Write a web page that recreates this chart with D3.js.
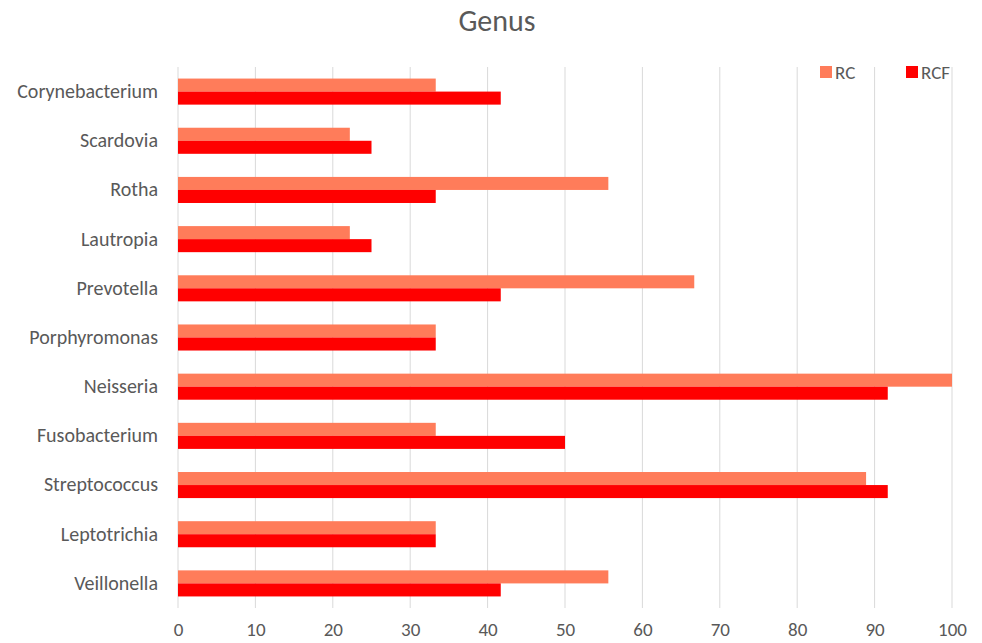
<!DOCTYPE html>
<html>
<head>
<meta charset="utf-8">
<script src="https://cdn.jsdelivr.net/npm/d3@7"></script>
<style>
  body { margin: 0; background: #fff; }
  text { font-family: Carlito, Calibri, Lato, "Open Sans", sans-serif; fill: #595959; }
</style>
</head>
<body>
<div id="chart"></div>
<script>
var genera = ['Corynebacterium', 'Scardovia', 'Rotha', 'Lautropia', 'Prevotella', 'Porphyromonas',
    'Neisseria', 'Fusobacterium', 'Streptococcus', 'Leptotrichia', 'Veillonella'];
var rcValues = [33.3, 22.2, 55.6, 22.2, 66.7, 33.3, 100, 33.3, 88.9, 33.3, 55.6];
var rcfValues = [41.7, 25, 33.3, 25, 41.7, 33.3, 91.7, 50, 91.7, 33.3, 41.7];
var seriesNames = ['RC', 'RCF'];
var seriesColors = ['#ff7c5a', '#ff0000'];
var xTicks = [0, 10, 20, 30, 40, 50, 60, 70, 80, 90, 100];

var svgWidth = 982;
var svgHeight = 643;

var margin = {
    top: 67,
    right: 30,
    bottom: 35,
    left: 178
};

var width = 952 - margin.left;
var height = 608 - margin.top;
var fontStack = 'Carlito, Calibri, Lato, "Open Sans", sans-serif';

var svg = d3.select('#chart')
    .append('svg')
    .attr('width', svgWidth)
    .attr('height', svgHeight);

var chartGroup = svg.append('g')
    .attr('transform', `translate(${margin.left},${margin.top})`);

var xScale = d3.scaleLinear()
    .domain([0, 100])
    .range([0, width]);

var yScale = d3.scaleBand()
    .domain(genera)
    .range([0, height])
    .paddingInner(0.47)
    .paddingOuter(0.235);

var inner = d3.scaleBand()
    .domain(seriesNames)
    .range([0, yScale.bandwidth()]);

// gridlines
chartGroup.append('g')
    .selectAll('line')
    .data(xTicks)
    .enter()
    .append('line')
    .attr('x1', d => xScale(d))
    .attr('x2', d => xScale(d))
    .attr('y1', 0)
    .attr('y2', height)
    .attr('stroke', '#d9d9d9')
    .attr('stroke-width', 1);

// bars
var rows = genera.map((g, i) => ({ genus: g, values: [rcValues[i], rcfValues[i]] }));

var groups = chartGroup.selectAll('.row')
    .data(rows)
    .enter()
    .append('g')
    .attr('transform', d => `translate(0,${yScale(d.genus)})`);

groups.selectAll('rect')
    .data(d => d.values.map((v, j) => ({ key: seriesNames[j], value: v, color: seriesColors[j] })))
    .enter()
    .append('rect')
    .attr('x', 0)
    .attr('y', d => inner(d.key))
    .attr('width', d => xScale(d.value))
    .attr('height', inner.bandwidth())
    .attr('fill', d => d.color);

// axes
var bottomAxis = d3.axisBottom(xScale).tickValues(xTicks).tickSize(0).tickPadding(15);
var xAxisG = chartGroup.append('g')
    .attr('transform', `translate(0,${height})`)
    .call(bottomAxis);
xAxisG.select('.domain').remove();
xAxisG.selectAll('text').style('font-size', '19px').style('fill', '#595959')
    .style('font-family', fontStack);

var leftAxis = d3.axisLeft(yScale).tickSize(0).tickPadding(20);
var yAxisG = chartGroup.append('g').call(leftAxis);
yAxisG.select('.domain').remove();
yAxisG.selectAll('text').style('font-size', '20px').style('fill', '#595959')
    .style('font-family', fontStack);

// title
svg.append('text')
    .attr('x', 497)
    .attr('y', 31)
    .attr('text-anchor', 'middle')
    .style('font-size', '30px')
    .text('Genus');

// legend
var legendX = [820, 906];
var legend = svg.append('g');
seriesNames.forEach(function(name, i) {
    legend.append('rect')
        .attr('x', legendX[i])
        .attr('y', 66)
        .attr('width', 12)
        .attr('height', 12)
        .attr('fill', seriesColors[i]);
    legend.append('text')
        .attr('x', legendX[i] + 15)
        .attr('y', 79)
        .style('font-size', '19px')
        .text(name);
});
</script>
</body>
</html>
